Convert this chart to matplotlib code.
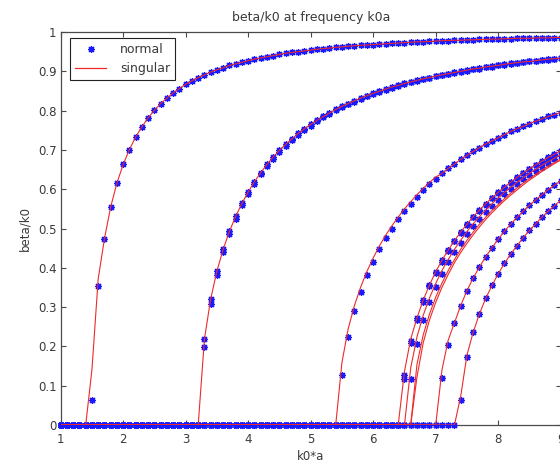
import numpy as np
import matplotlib
matplotlib.use('Agg')
import matplotlib.pyplot as plt
from matplotlib.lines import Line2D

# k0*a sweep, 0.1 steps from 1 to 9
k0a = np.linspace(1.0, 9.0, 81)

# beta/k0 from the normal solver, listed from the first point above cutoff up to k0a = 9
normal_1 = [0.063, 0.353, 0.474, 0.555, 0.616, 0.663, 0.701, 0.733, 0.759, 0.782,
            0.801, 0.818, 0.832, 0.845, 0.856, 0.867, 0.876, 0.884, 0.891, 0.898,
            0.904, 0.909, 0.915, 0.919, 0.923, 0.927, 0.931, 0.934, 0.937, 0.940,
            0.943, 0.946, 0.948, 0.950, 0.952, 0.954, 0.956, 0.958, 0.959, 0.961,
            0.962, 0.964, 0.965, 0.966, 0.967, 0.968, 0.969, 0.970, 0.971, 0.972,
            0.973, 0.974, 0.975, 0.975, 0.976, 0.977, 0.978, 0.978, 0.979, 0.979,
            0.980, 0.980, 0.981, 0.981, 0.982, 0.982, 0.983, 0.983, 0.984, 0.984,
            0.984, 0.985, 0.985, 0.985, 0.986, 0.986]
normal_2a = [0.219, 0.321, 0.392, 0.447, 0.493, 0.531, 0.564, 0.593, 0.619, 0.642,
             0.663, 0.682, 0.699, 0.714, 0.728, 0.742, 0.754, 0.765, 0.775, 0.785,
             0.794, 0.803, 0.811, 0.818, 0.825, 0.832, 0.838, 0.844, 0.849, 0.855,
             0.860, 0.864, 0.869, 0.873, 0.877, 0.881, 0.884, 0.888, 0.891, 0.894,
             0.897, 0.900, 0.903, 0.906, 0.908, 0.911, 0.913, 0.915, 0.918, 0.920,
             0.922, 0.924, 0.925, 0.927, 0.929, 0.931, 0.932, 0.934]
normal_2b = [0.198, 0.308, 0.382, 0.439, 0.485, 0.525, 0.559, 0.588, 0.614, 0.638,
             0.659, 0.678, 0.695, 0.711, 0.725, 0.739, 0.751, 0.762, 0.773, 0.783,
             0.792, 0.801, 0.809, 0.816, 0.823, 0.830, 0.836, 0.842, 0.848, 0.853,
             0.858, 0.863, 0.867, 0.872, 0.876, 0.880, 0.883, 0.887, 0.890, 0.893,
             0.896, 0.899, 0.902, 0.905, 0.907, 0.910, 0.912, 0.915, 0.917, 0.919,
             0.921, 0.923, 0.925, 0.927, 0.928, 0.930, 0.932, 0.933]
normal_3 = [0.126, 0.225, 0.289, 0.339, 0.381, 0.416, 0.447, 0.475, 0.500, 0.523,
            0.544, 0.563, 0.580, 0.597, 0.612, 0.626, 0.640, 0.653, 0.664, 0.676,
            0.686, 0.696, 0.706, 0.715, 0.723, 0.731, 0.739, 0.747, 0.754, 0.760,
            0.767, 0.773, 0.779, 0.785, 0.790, 0.795]
normal_4a = [0.127, 0.214, 0.272, 0.318, 0.356, 0.390, 0.419, 0.445, 0.469, 0.491,
             0.511, 0.530, 0.547, 0.563, 0.578, 0.592, 0.605, 0.618, 0.630, 0.641,
             0.652, 0.662, 0.671, 0.681, 0.689, 0.698]
normal_4b = [0.117, 0.208, 0.268, 0.314, 0.353, 0.387, 0.416, 0.443, 0.467, 0.489,
             0.509, 0.528, 0.545, 0.561, 0.577, 0.591, 0.604, 0.617, 0.629, 0.640,
             0.651, 0.661, 0.670, 0.680, 0.688, 0.697]
normal_5 = [0.117, 0.207, 0.266, 0.312, 0.351, 0.384, 0.414, 0.440, 0.464, 0.486,
            0.506, 0.525, 0.542, 0.558, 0.573, 0.587, 0.601, 0.613, 0.625, 0.637,
            0.647, 0.657, 0.667, 0.676, 0.685]
normal_7 = [0.120, 0.204, 0.260, 0.304, 0.342, 0.374, 0.402, 0.428, 0.451, 0.473,
            0.493, 0.511, 0.528, 0.544, 0.559, 0.573, 0.586, 0.599, 0.610, 0.622]
normal_8 = [0.064, 0.174, 0.236, 0.283, 0.322, 0.355, 0.385, 0.411, 0.435, 0.456,
            0.477, 0.495, 0.512, 0.529, 0.544, 0.558, 0.572]

# singular solver: only differs from the normal one close to cutoff
singular_1 = [0.141, 0.372] + normal_1[2:]
singular_2 = normal_2a
singular_3 = [0.159, 0.245, 0.304, 0.351, 0.391, 0.425, 0.456, 0.483, 0.507, 0.529,
              0.550, 0.568, 0.586, 0.602, 0.617, 0.631] + normal_3[16:]
singular_4 = [0.136, 0.219] + normal_4a[2:]
singular_5 = [0.145, 0.224, 0.279, 0.323, 0.360, 0.393, 0.421, 0.447, 0.470, 0.492,
              0.512, 0.530, 0.547, 0.563, 0.578, 0.592, 0.605, 0.617, 0.629, 0.640,
              0.651, 0.661, 0.670, 0.679, 0.688]
singular_6a = [0.154, 0.229, 0.282, 0.325, 0.361, 0.393, 0.421, 0.447, 0.470, 0.491,
               0.511, 0.529, 0.546, 0.561, 0.576, 0.590, 0.603, 0.616, 0.627, 0.638,
               0.649, 0.659, 0.668, 0.677]
singular_6b = [0.122, 0.209, 0.267, 0.312, 0.350, 0.383, 0.413, 0.439, 0.462, 0.484,
               0.504, 0.523, 0.540, 0.556, 0.571, 0.585, 0.598, 0.611, 0.623, 0.634,
               0.645, 0.655, 0.665, 0.674]
singular_7 = [0.140, 0.216] + normal_7[2:]
singular_8 = [0.073, 0.178] + normal_8[2:]

normal_modes = [normal_1, normal_2a, normal_2b, normal_3, normal_4a, normal_4b,
                normal_5, normal_7, normal_8]
singular_modes = [singular_1, singular_2, singular_3, singular_4, singular_5,
                  singular_6a, singular_6b, singular_7, singular_8]

x_ticks = [1, 2, 3, 4, 5, 6, 7, 8, 9]
y_ticks = [0, 0.1, 0.2, 0.3, 0.4, 0.5, 0.6, 0.7, 0.8, 0.9, 1]
y_ticklabels = ['0', '0.1', '0.2', '0.3', '0.4', '0.5', '0.6', '0.7', '0.8', '0.9', '1']


def below_cutoff_zeros(vals):
    # modes are zero below cutoff
    return np.concatenate([np.zeros(len(k0a) - len(vals)), vals])


text_col = '#3a3a3a'
axis_col = '#4a4a4a'
blue = '#1a1aff'
red = '#ee2a2a'
plt.rcParams['font.family'] = ['DejaVu Sans']
plt.rcParams['font.size'] = 8.5

fig = plt.figure(figsize=(5.6, 4.7), dpi=100)
ax = fig.add_axes([60.7 / 560, 45 / 470, 500 / 560, 393 / 470])

asterisk = (8, 2, 0)
for vals in normal_modes:
    ax.plot(k0a, below_cutoff_zeros(vals), linestyle='none', marker=asterisk,
            markersize=5, markeredgewidth=0.9, color=blue, clip_on=False, zorder=3)

for vals in singular_modes:
    ax.plot(k0a, below_cutoff_zeros(vals), color=red, linewidth=0.8, zorder=4)

ax.set_xlim(1, 9)
ax.set_ylim(0, 1)
ax.set_xticks(x_ticks)
ax.set_yticks(y_ticks)
ax.set_yticklabels(y_ticklabels)
ax.tick_params(direction='in', length=3.5, width=0.8, colors=axis_col,
               labelcolor=text_col, labelsize=8.5, top=True, right=True, pad=3)
ax.tick_params(axis='x', pad=6)
for sp in ax.spines.values():
    sp.set_color(axis_col)
    sp.set_linewidth(0.9)

ax.set_title('beta/k0 at frequency k0a', fontsize=9, color=text_col, pad=8)
ax.set_xlabel('k0*a', fontsize=8.5, color=text_col, labelpad=3)
ax.set_ylabel('beta/k0', fontsize=8.5, color=text_col, labelpad=5)

handles = [Line2D([], [], linestyle='none', marker=asterisk, markersize=5,
                  markeredgewidth=0.9, color=blue),
           Line2D([], [], color=red, linewidth=0.9)]
leg = ax.legend(handles, ['normal', 'singular'], loc='upper left',
                bbox_to_anchor=(70 / 560, 1 - 38 / 470), bbox_transform=fig.transFigure,
                borderaxespad=0, fancybox=False, framealpha=1, edgecolor='#222222',
                handlelength=2.5, labelspacing=0.5, borderpad=0.4, handletextpad=1.1,
                fontsize=9)
leg.get_frame().set_linewidth(0.8)
for t in leg.get_texts():
    t.set_color(text_col)

fig.savefig('out.png', dpi=100)
